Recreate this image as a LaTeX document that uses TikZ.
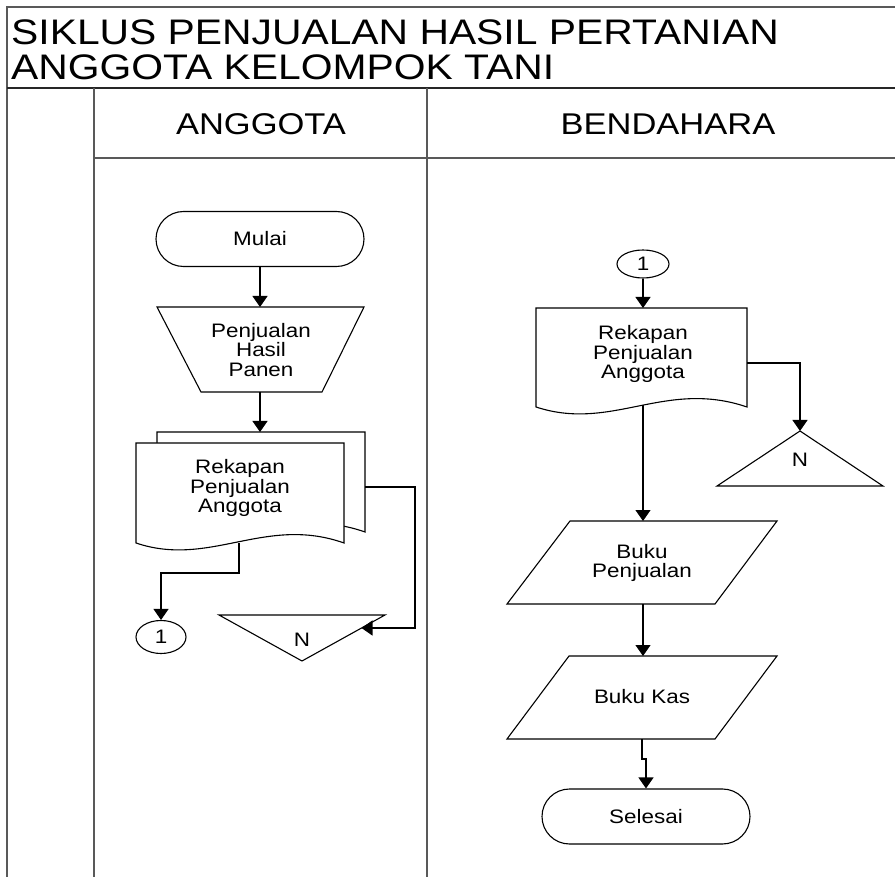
\documentclass[tikz,border=0pt]{standalone}
\usepackage{fontspec}
\setmainfont[FakeStretch=1.15]{Liberation Sans}
\usetikzlibrary{shapes.geometric,shapes.misc,arrows.meta,calc}

\begin{document}
\begin{tikzpicture}[x=1pt,y=-1pt,
  frame/.style={line width=1.4pt, draw=black!65},
  sepline/.style={line width=2.2pt, draw=black!85},
  outline/.style={line width=1.1pt, draw=black, fill=white},
  flow/.style={line width=1.1pt, draw=black, -{Triangle[length=11pt,width=15pt]}},
  body/.style={font=\fontsize{19.5}{19.8}\selectfont, align=center, inner sep=0pt},
  terminal/.style={rounded rectangle, outline, minimum width=208pt, minimum height=55pt, body},
  conn/.style={ellipse, outline, inner sep=0pt, body},
  lanehead/.style={font=\fontsize{30}{34}\selectfont, inner sep=0pt},
  titletext/.style={font=\fontsize{35.5}{38}\selectfont, inner sep=0pt, anchor=base west}
]
\useasboundingbox (0,0) rectangle (895,877);

% swimlane frame
\draw[frame] (7,877) -- (7,7) -- (895,7);
\draw[sepline] (7,88) -- (895,88);
\draw[frame] (94,158) -- (895,158);
\draw[frame] (94,88) -- (94,877);
\draw[frame] (427,88) -- (427,877);

\node[titletext] (title1) at (11,45) {SIKLUS PENJUALAN HASIL PERTANIAN};
\node[titletext] (title2) at (11,80) {ANGGOTA KELOMPOK TANI};
\node[lanehead] (laneA) at (261,124) {ANGGOTA};
\node[lanehead] (laneB) at (668,124) {BENDAHARA};

% ---- ANGGOTA lane ----
\node[terminal] (mulai) at (260,239) {Mulai};

% manual operation
\draw[outline] (157,307) -- (364,307) -- (322,392) -- (201,392) -- cycle;
\node[body] (penj) at (261,350) {Penjualan\\Hasil\\Panen};
\coordinate (penjTop) at (260,307);
\coordinate (penjBot) at (260,392);
\draw[flow] (mulai.south) -- (penjTop);

% multiple document
\draw[outline] (157,432) -- (365,432) -- (365,532)
  .. controls (286,504) and (231,557) .. (157,532) -- cycle;
\draw[outline] (136,443) -- (344,443) -- (344,543)
  .. controls (265,515) and (210,568) .. (136,543) -- cycle;
\node[body] (rekA) at (240,488) {Rekapan\\Penjualan\\Anggota};
\coordinate (rekATop) at (260,432);
\coordinate (rekABot) at (239,543);
\coordinate (rekARight) at (365,487);
\draw[flow] (penjBot) -- (rekATop);

% off-page connector
\node[conn, minimum width=50pt, minimum height=33pt] (oneA) at (161,637) {1};
\coordinate (bendA) at (161,573);
\draw[flow] (rekABot) |- (bendA) -- (oneA.north);

% archive
\coordinate (nA1) at (219,615);
\coordinate (nA2) at (385,615);
\coordinate (nA3) at (302,661);
\draw[outline] (nA1) -- (nA2) -- (nA3) -- cycle;
\node[body] (nA) at (302,640) {N};
\coordinate (nAhit) at ($(nA2)!0.283!(nA3)$);
\coordinate (bendB) at (415,560);
\draw[flow] (rekARight) -| (bendB) |- (nAhit);

% ---- BENDAHARA lane ----
\node[conn, minimum width=52pt, minimum height=28pt] (oneB) at (643,264) {1};

\draw[outline] (536,308) -- (747,308) -- (747,407)
  .. controls (665,379) and (612,432) .. (536,407) -- cycle;
\node[body] (rekB) at (643,354) {Rekapan\\Penjualan\\Anggota};
\coordinate (rekBTop) at (643,308);
\coordinate (rekBBot) at (643,405);
\coordinate (rekBRight) at (747,363);
\draw[flow] (oneB.south) -- (rekBTop);

% archive
\coordinate (nB1) at (800,431);
\coordinate (nB2) at (883,486);
\coordinate (nB3) at (717,486);
\draw[outline] (nB1) -- (nB2) -- (nB3) -- cycle;
\node[body] (nB) at (800,460) {N};
\draw[flow] (rekBRight) -| (nB1);

% Buku Penjualan
\draw[outline] (570,521) -- (777,521) -- (715,604) -- (507,604) -- cycle;
\node[body] (bukuP) at (642,563) {Buku\\Penjualan};
\coordinate (bukuPTop) at (643,521);
\coordinate (bukuPBot) at (643,604);
\draw[flow] (rekBBot) -- (bukuPTop);

% Buku Kas
\draw[outline] (569,656) -- (777,656) -- (715,739) -- (507,739) -- cycle;
\node[body] (bukuK) at (642,697) {Buku Kas};
\coordinate (bukuKTop) at (643,656);
\coordinate (bukuKBot) at (642,739);
\draw[flow] (bukuPBot) -- (bukuKTop);

\node[terminal] (selesai) at (646,816.5) {Selesai};
\coordinate (jog) at (642,759);
\draw[flow] (bukuKBot) -- (jog) -| (selesai.north);
\end{tikzpicture}
\end{document}
